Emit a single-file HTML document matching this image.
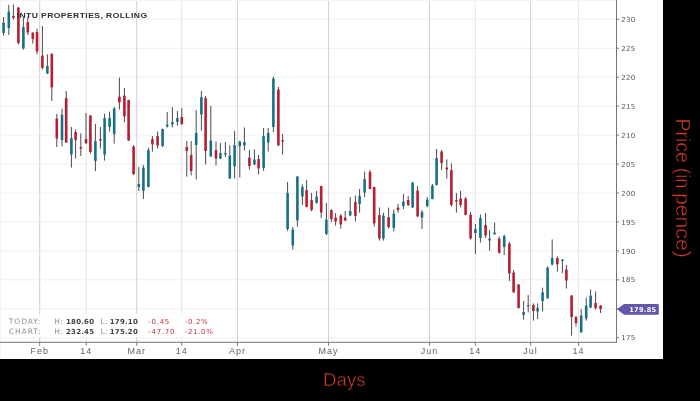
<!DOCTYPE html>
<html lang="en"><head><meta charset="utf-8"><title>INTU Properties, Rolling</title>
<style>
html,body{margin:0;padding:0;background:#000;overflow:hidden}
body{width:700px;height:401px;position:relative}
</style></head><body>
<svg width="700" height="401" viewBox="0 0 700 401" style="position:absolute;left:0;top:0">
<rect x="0" y="0" width="700" height="401" fill="#000"/>
<rect x="0" y="0" width="663" height="359" fill="#fff"/>
<g stroke="#f0f0f0" stroke-width="1">
<line x1="0" y1="19.30" x2="616.5" y2="19.30"/>
<line x1="0" y1="48.25" x2="616.5" y2="48.25"/>
<line x1="0" y1="77.20" x2="616.5" y2="77.20"/>
<line x1="0" y1="106.15" x2="616.5" y2="106.15"/>
<line x1="0" y1="135.10" x2="616.5" y2="135.10"/>
<line x1="0" y1="164.05" x2="616.5" y2="164.05"/>
<line x1="0" y1="193.00" x2="616.5" y2="193.00"/>
<line x1="0" y1="221.95" x2="616.5" y2="221.95"/>
<line x1="0" y1="250.90" x2="616.5" y2="250.90"/>
<line x1="0" y1="279.85" x2="616.5" y2="279.85"/>
<line x1="0" y1="308.80" x2="616.5" y2="308.80"/>
<line x1="0" y1="337.75" x2="616.5" y2="337.75"/>
</g>
<g stroke="#cfcfcf" stroke-width="1">
<line x1="39.7" y1="0" x2="39.7" y2="342"/>
<line x1="136.7" y1="0" x2="136.7" y2="342"/>
<line x1="237.4" y1="0" x2="237.4" y2="342"/>
<line x1="328.6" y1="0" x2="328.6" y2="342"/>
<line x1="429.6" y1="0" x2="429.6" y2="342"/>
<line x1="530.6" y1="0" x2="530.6" y2="342"/>
</g>
<g stroke="#e6e6e6" stroke-width="1">
<line x1="86.3" y1="0" x2="86.3" y2="342"/>
<line x1="181.7" y1="0" x2="181.7" y2="342"/>
<line x1="475.3" y1="0" x2="475.3" y2="342"/>
<line x1="578.6" y1="0" x2="578.6" y2="342"/>
</g>
<path d="M0.5 359 V0.5 H616" fill="none" stroke="#f4f4f4" stroke-width="1"/>
<g stroke="#4a4a4a" stroke-width="1">
<line x1="3.6" y1="17.0" x2="3.6" y2="35.6"/>
<line x1="8.8" y1="5.0" x2="8.8" y2="35.0"/>
<line x1="13.4" y1="4.4" x2="13.4" y2="19.6"/>
<line x1="18.4" y1="7.0" x2="18.4" y2="44.4"/>
<line x1="23.4" y1="18.0" x2="23.4" y2="49.6"/>
<line x1="27.8" y1="17.0" x2="27.8" y2="35.0"/>
<line x1="32.8" y1="32.6" x2="32.8" y2="43.6"/>
<line x1="37.0" y1="28.6" x2="37.0" y2="54.4"/>
<line x1="42.4" y1="26.0" x2="42.4" y2="69.4"/>
<line x1="47.4" y1="54.4" x2="47.4" y2="74.0"/>
<line x1="51.8" y1="53.0" x2="51.8" y2="101.0"/>
<line x1="56.8" y1="114.0" x2="56.8" y2="147.0"/>
<line x1="62.0" y1="108.6" x2="62.0" y2="146.6"/>
<line x1="66.2" y1="91.0" x2="66.2" y2="143.0"/>
<line x1="71.4" y1="127.0" x2="71.4" y2="167.6"/>
<line x1="75.6" y1="129.4" x2="75.6" y2="158.6"/>
<line x1="80.8" y1="133.4" x2="80.8" y2="156.0"/>
<line x1="86.0" y1="113.0" x2="86.0" y2="144.0"/>
<line x1="90.4" y1="115.0" x2="90.4" y2="153.6"/>
<line x1="95.4" y1="124.0" x2="95.4" y2="171.0"/>
<line x1="100.4" y1="127.0" x2="100.4" y2="148.6"/>
<line x1="104.6" y1="113.6" x2="104.6" y2="160.6"/>
<line x1="109.6" y1="111.6" x2="109.6" y2="131.6"/>
<line x1="114.2" y1="107.0" x2="114.2" y2="143.6"/>
<line x1="119.4" y1="77.6" x2="119.4" y2="109.6"/>
<line x1="124.4" y1="88.0" x2="124.4" y2="122.4"/>
<line x1="128.6" y1="99.6" x2="128.6" y2="141.0"/>
<line x1="133.6" y1="145.0" x2="133.6" y2="175.0"/>
<line x1="138.8" y1="167.0" x2="138.8" y2="191.0"/>
<line x1="143.4" y1="165.0" x2="143.4" y2="199.0"/>
<line x1="148.4" y1="147.6" x2="148.4" y2="187.4"/>
<line x1="152.4" y1="136.0" x2="152.4" y2="151.6"/>
<line x1="157.6" y1="131.6" x2="157.6" y2="148.6"/>
<line x1="162.6" y1="128.6" x2="162.6" y2="147.0"/>
<line x1="167.2" y1="112.0" x2="167.2" y2="127.6"/>
<line x1="172.4" y1="107.0" x2="172.4" y2="127.4"/>
<line x1="177.4" y1="111.0" x2="177.4" y2="125.6"/>
<line x1="181.8" y1="108.0" x2="181.8" y2="125.0"/>
<line x1="186.8" y1="141.0" x2="186.8" y2="176.6"/>
<line x1="191.2" y1="141.0" x2="191.2" y2="175.4"/>
<line x1="196.2" y1="110.0" x2="196.2" y2="179.4"/>
<line x1="201.4" y1="91.0" x2="201.4" y2="130.6"/>
<line x1="205.6" y1="96.0" x2="205.6" y2="164.4"/>
<line x1="210.8" y1="106.0" x2="210.8" y2="157.0"/>
<line x1="216.0" y1="141.4" x2="216.0" y2="165.6"/>
<line x1="220.4" y1="143.0" x2="220.4" y2="159.0"/>
<line x1="225.4" y1="142.0" x2="225.4" y2="157.0"/>
<line x1="229.8" y1="145.4" x2="229.8" y2="179.0"/>
<line x1="234.6" y1="131.0" x2="234.6" y2="178.6"/>
<line x1="239.8" y1="140.6" x2="239.8" y2="177.6"/>
<line x1="244.4" y1="127.4" x2="244.4" y2="150.6"/>
<line x1="249.4" y1="150.0" x2="249.4" y2="169.6"/>
<line x1="254.4" y1="149.4" x2="254.4" y2="165.0"/>
<line x1="258.6" y1="155.0" x2="258.6" y2="174.4"/>
<line x1="263.6" y1="128.0" x2="263.6" y2="171.0"/>
<line x1="268.2" y1="128.0" x2="268.2" y2="151.6"/>
<line x1="273.4" y1="76.6" x2="273.4" y2="132.0"/>
<line x1="278.4" y1="87.0" x2="278.4" y2="146.0"/>
<line x1="282.6" y1="134.0" x2="282.6" y2="154.6"/>
<line x1="287.6" y1="182.0" x2="287.6" y2="231.0"/>
<line x1="292.8" y1="227.0" x2="292.8" y2="249.6"/>
<line x1="297.4" y1="176.0" x2="297.4" y2="226.6"/>
<line x1="302.4" y1="184.4" x2="302.4" y2="205.0"/>
<line x1="306.6" y1="180.0" x2="306.6" y2="207.4"/>
<line x1="311.6" y1="193.0" x2="311.6" y2="211.4"/>
<line x1="316.6" y1="191.0" x2="316.6" y2="203.6"/>
<line x1="321.2" y1="185.6" x2="321.2" y2="218.0"/>
<line x1="326.4" y1="203.0" x2="326.4" y2="235.4"/>
<line x1="331.4" y1="209.4" x2="331.4" y2="222.0"/>
<line x1="335.6" y1="213.0" x2="335.6" y2="225.6"/>
<line x1="340.8" y1="214.0" x2="340.8" y2="228.6"/>
<line x1="345.2" y1="211.0" x2="345.2" y2="221.0"/>
<line x1="350.2" y1="197.0" x2="350.2" y2="216.0"/>
<line x1="355.4" y1="195.4" x2="355.4" y2="221.4"/>
<line x1="359.6" y1="189.0" x2="359.6" y2="212.6"/>
<line x1="364.6" y1="171.6" x2="364.6" y2="197.0"/>
<line x1="370.0" y1="170.0" x2="370.0" y2="189.4"/>
<line x1="374.2" y1="186.6" x2="374.2" y2="226.6"/>
<line x1="379.4" y1="207.4" x2="379.4" y2="240.6"/>
<line x1="383.4" y1="212.6" x2="383.4" y2="240.6"/>
<line x1="388.6" y1="207.6" x2="388.6" y2="228.6"/>
<line x1="393.8" y1="209.4" x2="393.8" y2="231.4"/>
<line x1="398.0" y1="204.0" x2="398.0" y2="212.6"/>
<line x1="403.4" y1="194.0" x2="403.4" y2="209.0"/>
<line x1="408.2" y1="196.0" x2="408.2" y2="206.0"/>
<line x1="412.6" y1="182.0" x2="412.6" y2="208.0"/>
<line x1="417.6" y1="186.0" x2="417.6" y2="217.0"/>
<line x1="422.0" y1="210.0" x2="422.0" y2="229.0"/>
<line x1="427.2" y1="197.0" x2="427.2" y2="207.4"/>
<line x1="432.4" y1="184.0" x2="432.4" y2="199.4"/>
<line x1="436.6" y1="149.0" x2="436.6" y2="185.4"/>
<line x1="441.6" y1="150.0" x2="441.6" y2="170.0"/>
<line x1="446.8" y1="159.4" x2="446.8" y2="178.6"/>
<line x1="451.4" y1="163.4" x2="451.4" y2="206.6"/>
<line x1="456.4" y1="193.0" x2="456.4" y2="212.6"/>
<line x1="460.6" y1="191.0" x2="460.6" y2="207.4"/>
<line x1="465.6" y1="197.0" x2="465.6" y2="215.4"/>
<line x1="470.6" y1="212.0" x2="470.6" y2="239.6"/>
<line x1="475.4" y1="224.0" x2="475.4" y2="254.0"/>
<line x1="480.4" y1="214.6" x2="480.4" y2="242.6"/>
<line x1="485.6" y1="213.0" x2="485.6" y2="238.0"/>
<line x1="489.6" y1="230.0" x2="489.6" y2="250.6"/>
<line x1="494.6" y1="222.6" x2="494.6" y2="234.6"/>
<line x1="499.2" y1="236.6" x2="499.2" y2="253.6"/>
<line x1="504.2" y1="234.6" x2="504.2" y2="255.0"/>
<line x1="509.4" y1="242.0" x2="509.4" y2="281.0"/>
<line x1="513.6" y1="270.0" x2="513.6" y2="292.6"/>
<line x1="518.6" y1="284.0" x2="518.6" y2="308.4"/>
<line x1="523.6" y1="301.0" x2="523.6" y2="319.6"/>
<line x1="528.2" y1="295.0" x2="528.2" y2="312.4"/>
<line x1="533.4" y1="303.4" x2="533.4" y2="320.6"/>
<line x1="537.6" y1="303.4" x2="537.6" y2="319.0"/>
<line x1="542.6" y1="287.6" x2="542.6" y2="311.6"/>
<line x1="547.6" y1="266.6" x2="547.6" y2="298.6"/>
<line x1="552.2" y1="239.4" x2="552.2" y2="265.6"/>
<line x1="557.4" y1="256.4" x2="557.4" y2="271.6"/>
<line x1="562.4" y1="259.0" x2="562.4" y2="273.0"/>
<line x1="566.4" y1="265.0" x2="566.4" y2="288.6"/>
<line x1="571.6" y1="295.0" x2="571.6" y2="335.6"/>
<line x1="576.0" y1="316.0" x2="576.0" y2="326.4"/>
<line x1="581.2" y1="309.0" x2="581.2" y2="332.6"/>
<line x1="586.2" y1="297.6" x2="586.2" y2="320.6"/>
<line x1="590.6" y1="289.4" x2="590.6" y2="308.0"/>
<line x1="595.6" y1="291.4" x2="595.6" y2="309.6"/>
<line x1="600.6" y1="305.0" x2="600.6" y2="313.0"/>
</g>
<g fill="#177186">
<rect x="2.30" y="22.6" width="2.6" height="10.40" rx="0.6"/>
<rect x="7.50" y="11.4" width="2.6" height="16.60" rx="0.6"/>
<rect x="22.10" y="27.0" width="2.6" height="21.60" rx="0.6"/>
<rect x="46.10" y="66.0" width="2.6" height="7.60" rx="0.6"/>
<rect x="60.70" y="114.4" width="2.6" height="25.60" rx="0.6"/>
<rect x="70.10" y="138.0" width="2.6" height="16.60" rx="0.6"/>
<rect x="94.10" y="141.0" width="2.6" height="20.00" rx="0.6"/>
<rect x="103.30" y="118.0" width="2.6" height="36.60" rx="0.6"/>
<rect x="108.30" y="118.0" width="2.6" height="9.00" rx="0.6"/>
<rect x="112.90" y="108.6" width="2.6" height="25.60" rx="0.6"/>
<rect x="137.50" y="184.0" width="2.6" height="3.00" rx="0.6"/>
<rect x="142.10" y="167.4" width="2.6" height="23.60" rx="0.6"/>
<rect x="147.10" y="150.0" width="2.6" height="37.00" rx="0.6"/>
<rect x="161.30" y="129.0" width="2.6" height="17.00" rx="0.6"/>
<rect x="165.90" y="124.6" width="2.6" height="2.00" rx="0.6"/>
<rect x="171.10" y="122.0" width="2.6" height="2.40" rx="0.6"/>
<rect x="176.10" y="118.0" width="2.6" height="4.00" rx="0.6"/>
<rect x="194.90" y="133.0" width="2.6" height="12.00" rx="0.6"/>
<rect x="200.10" y="97.0" width="2.6" height="17.60" rx="0.6"/>
<rect x="209.50" y="140.6" width="2.6" height="15.80" rx="0.6"/>
<rect x="219.10" y="153.0" width="2.6" height="5.60" rx="0.6"/>
<rect x="224.10" y="153.0" width="2.6" height="1.60" rx="0.6"/>
<rect x="228.50" y="155.4" width="2.6" height="23.20" rx="0.6"/>
<rect x="233.30" y="145.0" width="2.6" height="21.40" rx="0.6"/>
<rect x="238.50" y="141.4" width="2.6" height="5.00" rx="0.6"/>
<rect x="243.10" y="142.0" width="2.6" height="3.60" rx="0.6"/>
<rect x="253.10" y="159.4" width="2.6" height="5.00" rx="0.6"/>
<rect x="262.30" y="136.0" width="2.6" height="32.00" rx="0.6"/>
<rect x="266.90" y="133.0" width="2.6" height="9.60" rx="0.6"/>
<rect x="272.10" y="78.6" width="2.6" height="48.40" rx="0.6"/>
<rect x="286.30" y="193.0" width="2.6" height="36.00" rx="0.6"/>
<rect x="291.50" y="229.6" width="2.6" height="16.00" rx="0.6"/>
<rect x="296.10" y="176.4" width="2.6" height="44.00" rx="0.6"/>
<rect x="301.10" y="187.0" width="2.6" height="9.60" rx="0.6"/>
<rect x="315.30" y="196.6" width="2.6" height="6.40" rx="0.6"/>
<rect x="325.10" y="219.6" width="2.6" height="14.40" rx="0.6"/>
<rect x="348.90" y="211.0" width="2.6" height="4.40" rx="0.6"/>
<rect x="358.30" y="196.0" width="2.6" height="8.00" rx="0.6"/>
<rect x="363.30" y="179.0" width="2.6" height="13.60" rx="0.6"/>
<rect x="382.10" y="215.6" width="2.6" height="23.00" rx="0.6"/>
<rect x="392.50" y="213.4" width="2.6" height="14.60" rx="0.6"/>
<rect x="402.10" y="201.4" width="2.6" height="4.60" rx="0.6"/>
<rect x="411.30" y="182.4" width="2.6" height="25.00" rx="0.6"/>
<rect x="420.70" y="212.0" width="2.6" height="5.60" rx="0.6"/>
<rect x="425.90" y="199.4" width="2.6" height="6.60" rx="0.6"/>
<rect x="431.10" y="185.6" width="2.6" height="13.40" rx="0.6"/>
<rect x="435.30" y="158.0" width="2.6" height="27.00" rx="0.6"/>
<rect x="474.10" y="229.0" width="2.6" height="4.00" rx="0.6"/>
<rect x="479.10" y="218.0" width="2.6" height="20.00" rx="0.6"/>
<rect x="488.30" y="238.6" width="2.6" height="2.00" rx="0.6"/>
<rect x="493.30" y="232.6" width="2.6" height="1.80" rx="0.6"/>
<rect x="502.90" y="236.0" width="2.6" height="11.00" rx="0.6"/>
<rect x="522.30" y="312.0" width="2.6" height="3.00" rx="0.6"/>
<rect x="526.90" y="305.0" width="2.6" height="1.40" rx="0.6"/>
<rect x="536.30" y="308.0" width="2.6" height="3.60" rx="0.6"/>
<rect x="541.30" y="292.2" width="2.6" height="9.00" rx="0.6"/>
<rect x="546.30" y="267.6" width="2.6" height="30.80" rx="0.6"/>
<rect x="550.90" y="258.0" width="2.6" height="6.40" rx="0.6"/>
<rect x="561.10" y="259.4" width="2.6" height="1.60" rx="0.6"/>
<rect x="579.90" y="315.6" width="2.6" height="16.80" rx="0.6"/>
<rect x="584.90" y="305.6" width="2.6" height="12.80" rx="0.6"/>
<rect x="589.30" y="295.4" width="2.6" height="12.20" rx="0.6"/>
</g>
<g fill="#b91d30">
<rect x="12.10" y="16.0" width="2.6" height="2.00" rx="0.6"/>
<rect x="17.10" y="7.6" width="2.6" height="35.40" rx="0.6"/>
<rect x="26.50" y="22.0" width="2.6" height="10.60" rx="0.6"/>
<rect x="31.50" y="32.6" width="2.6" height="6.40" rx="0.6"/>
<rect x="35.70" y="32.0" width="2.6" height="19.40" rx="0.6"/>
<rect x="41.10" y="55.4" width="2.6" height="12.60" rx="0.6"/>
<rect x="50.50" y="54.0" width="2.6" height="33.40" rx="0.6"/>
<rect x="55.50" y="118.6" width="2.6" height="20.00" rx="0.6"/>
<rect x="64.90" y="98.0" width="2.6" height="44.60" rx="0.6"/>
<rect x="74.30" y="132.0" width="2.6" height="8.00" rx="0.6"/>
<rect x="79.50" y="147.0" width="2.6" height="1.60" rx="0.6"/>
<rect x="84.70" y="139.0" width="2.6" height="4.00" rx="0.6"/>
<rect x="89.10" y="115.6" width="2.6" height="36.40" rx="0.6"/>
<rect x="99.10" y="139.0" width="2.6" height="1.60" rx="0.6"/>
<rect x="118.10" y="96.6" width="2.6" height="5.80" rx="0.6"/>
<rect x="123.10" y="95.4" width="2.6" height="21.00" rx="0.6"/>
<rect x="127.30" y="100.0" width="2.6" height="40.60" rx="0.6"/>
<rect x="132.30" y="146.6" width="2.6" height="27.40" rx="0.6"/>
<rect x="151.10" y="139.0" width="2.6" height="5.40" rx="0.6"/>
<rect x="156.30" y="136.0" width="2.6" height="9.60" rx="0.6"/>
<rect x="180.50" y="117.0" width="2.6" height="7.00" rx="0.6"/>
<rect x="185.50" y="147.0" width="2.6" height="4.00" rx="0.6"/>
<rect x="189.90" y="155.0" width="2.6" height="16.00" rx="0.6"/>
<rect x="204.30" y="98.0" width="2.6" height="53.00" rx="0.6"/>
<rect x="214.70" y="150.0" width="2.6" height="8.60" rx="0.6"/>
<rect x="248.10" y="157.4" width="2.6" height="8.60" rx="0.6"/>
<rect x="257.30" y="159.0" width="2.6" height="9.40" rx="0.6"/>
<rect x="277.10" y="89.4" width="2.6" height="56.00" rx="0.6"/>
<rect x="281.30" y="140.0" width="2.6" height="1.60" rx="0.6"/>
<rect x="305.30" y="190.0" width="2.6" height="17.00" rx="0.6"/>
<rect x="310.30" y="200.0" width="2.6" height="10.00" rx="0.6"/>
<rect x="319.90" y="186.0" width="2.6" height="26.60" rx="0.6"/>
<rect x="330.10" y="210.0" width="2.6" height="9.00" rx="0.6"/>
<rect x="334.30" y="217.4" width="2.6" height="4.00" rx="0.6"/>
<rect x="339.50" y="215.6" width="2.6" height="9.00" rx="0.6"/>
<rect x="343.90" y="217.4" width="2.6" height="3.20" rx="0.6"/>
<rect x="354.10" y="202.0" width="2.6" height="14.00" rx="0.6"/>
<rect x="368.70" y="172.0" width="2.6" height="17.00" rx="0.6"/>
<rect x="372.90" y="187.0" width="2.6" height="36.40" rx="0.6"/>
<rect x="378.10" y="215.0" width="2.6" height="23.60" rx="0.6"/>
<rect x="387.30" y="217.0" width="2.6" height="10.00" rx="0.6"/>
<rect x="396.70" y="207.6" width="2.6" height="2.40" rx="0.6"/>
<rect x="406.90" y="200.0" width="2.6" height="5.00" rx="0.6"/>
<rect x="416.30" y="190.4" width="2.6" height="26.00" rx="0.6"/>
<rect x="440.30" y="151.4" width="2.6" height="11.60" rx="0.6"/>
<rect x="445.50" y="167.6" width="2.6" height="2.00" rx="0.6"/>
<rect x="450.10" y="170.0" width="2.6" height="35.00" rx="0.6"/>
<rect x="455.10" y="200.0" width="2.6" height="1.60" rx="0.6"/>
<rect x="459.30" y="198.6" width="2.6" height="6.40" rx="0.6"/>
<rect x="464.30" y="198.4" width="2.6" height="16.60" rx="0.6"/>
<rect x="469.30" y="214.6" width="2.6" height="24.00" rx="0.6"/>
<rect x="484.30" y="225.0" width="2.6" height="10.60" rx="0.6"/>
<rect x="497.90" y="238.4" width="2.6" height="14.60" rx="0.6"/>
<rect x="508.10" y="243.4" width="2.6" height="30.20" rx="0.6"/>
<rect x="512.30" y="272.6" width="2.6" height="19.80" rx="0.6"/>
<rect x="517.30" y="284.6" width="2.6" height="23.40" rx="0.6"/>
<rect x="532.10" y="305.0" width="2.6" height="6.00" rx="0.6"/>
<rect x="556.10" y="258.0" width="2.6" height="6.40" rx="0.6"/>
<rect x="565.10" y="269.4" width="2.6" height="11.20" rx="0.6"/>
<rect x="570.30" y="295.6" width="2.6" height="21.40" rx="0.6"/>
<rect x="574.70" y="317.0" width="2.6" height="6.00" rx="0.6"/>
<rect x="594.30" y="303.0" width="2.6" height="5.00" rx="0.6"/>
<rect x="599.30" y="305.6" width="2.6" height="3.40" rx="0.6"/>
</g>
<rect x="4" y="314" width="215" height="23" fill="#fff" fill-opacity="0.88"/>
<g stroke="#757575" stroke-width="1">
<line x1="616.5" y1="0" x2="616.5" y2="342.5"/>
<line x1="0" y1="342.3" x2="617" y2="342.3"/>
<line x1="616.5" y1="19.30" x2="619" y2="19.30"/>
<line x1="616.5" y1="48.25" x2="619" y2="48.25"/>
<line x1="616.5" y1="77.20" x2="619" y2="77.20"/>
<line x1="616.5" y1="106.15" x2="619" y2="106.15"/>
<line x1="616.5" y1="135.10" x2="619" y2="135.10"/>
<line x1="616.5" y1="164.05" x2="619" y2="164.05"/>
<line x1="616.5" y1="193.00" x2="619" y2="193.00"/>
<line x1="616.5" y1="221.95" x2="619" y2="221.95"/>
<line x1="616.5" y1="250.90" x2="619" y2="250.90"/>
<line x1="616.5" y1="279.85" x2="619" y2="279.85"/>
<line x1="616.5" y1="308.80" x2="619" y2="308.80"/>
<line x1="616.5" y1="337.75" x2="619" y2="337.75"/>
<line x1="39.7" y1="342.3" x2="39.7" y2="345.7"/>
<line x1="136.7" y1="342.3" x2="136.7" y2="345.7"/>
<line x1="237.4" y1="342.3" x2="237.4" y2="345.7"/>
<line x1="328.6" y1="342.3" x2="328.6" y2="345.7"/>
<line x1="429.6" y1="342.3" x2="429.6" y2="345.7"/>
<line x1="530.6" y1="342.3" x2="530.6" y2="345.7"/>
<line x1="86.3" y1="342.3" x2="86.3" y2="345.7"/>
<line x1="181.7" y1="342.3" x2="181.7" y2="345.7"/>
<line x1="475.3" y1="342.3" x2="475.3" y2="345.7"/>
<line x1="578.6" y1="342.3" x2="578.6" y2="345.7"/>
</g>
<g font-family="'DejaVu Sans', 'Liberation Sans', sans-serif" font-size="7" fill="#555" letter-spacing="0.3">
<text x="621.2" y="21.90">230</text>
<text x="621.2" y="50.85">225</text>
<text x="621.2" y="79.80">220</text>
<text x="621.2" y="108.75">215</text>
<text x="621.2" y="137.70">210</text>
<text x="621.2" y="166.65">205</text>
<text x="621.2" y="195.60">200</text>
<text x="621.2" y="224.55">195</text>
<text x="621.2" y="253.50">190</text>
<text x="621.2" y="282.45">185</text>
<text x="621.2" y="311.40">180</text>
<text x="621.2" y="340.35">175</text>
</g>
<g font-family="'Liberation Sans', sans-serif" font-size="9" fill="#626262" text-anchor="middle" letter-spacing="1">
<text x="39.7" y="353.6">Feb</text>
<text x="136.7" y="353.6">Mar</text>
<text x="237.4" y="353.6">Apr</text>
<text x="328.6" y="353.6">May</text>
<text x="429.6" y="353.6">Jun</text>
<text x="530.6" y="353.6">Jul</text>
<text x="86.3" y="353.6">14</text>
<text x="181.7" y="353.6">14</text>
<text x="475.3" y="353.6">14</text>
<text x="578.6" y="353.6">14</text>
</g>
<path d="M617 309.3 L624 303.9 H657.5 Q658.8 303.9 658.8 305.2 V313.4 Q658.8 314.7 657.5 314.7 H624 Z" fill="#6456a8"/>
<text x="629.2" y="311.6" font-family="'DejaVu Sans', 'Liberation Sans', sans-serif" font-weight="bold" font-size="6.6" letter-spacing="0.3" fill="#fff">179.85</text>
<text transform="translate(16.6 17.8) scale(1.122 1)" font-family="'Liberation Sans', sans-serif" font-weight="bold" font-size="7.6" fill="#2e2e2e" letter-spacing="0.4">INTU PROPERTIES, ROLLING</text>
<text x="8.8" y="324.1" font-family="'DejaVu Sans', 'Liberation Sans', sans-serif" font-size="7.5" fill="#8e8e8e" letter-spacing="0.95">TODAY:</text>
<text x="54.2" y="324.1" font-family="'DejaVu Sans', 'Liberation Sans', sans-serif" font-size="7.5" fill="#8e8e8e" letter-spacing="0.5">H:</text>
<text x="66" y="324.1" font-family="'DejaVu Sans', 'Liberation Sans', sans-serif" font-size="7" fill="#444" font-weight="bold" letter-spacing="0.2">180.60</text>
<text x="100.4" y="324.1" font-family="'DejaVu Sans', 'Liberation Sans', sans-serif" font-size="7.5" fill="#8e8e8e" letter-spacing="0.5">L:</text>
<text x="109.8" y="324.1" font-family="'DejaVu Sans', 'Liberation Sans', sans-serif" font-size="7" fill="#444" font-weight="bold" letter-spacing="0.2">179.10</text>
<text x="148.2" y="324.1" font-family="'DejaVu Sans', 'Liberation Sans', sans-serif" font-size="7" fill="#c4303f" letter-spacing="0.75">-0.45</text>
<text x="184.8" y="324.1" font-family="'DejaVu Sans', 'Liberation Sans', sans-serif" font-size="7" fill="#c4303f" letter-spacing="0.65">-0.2%</text>
<text x="8.8" y="333.7" font-family="'DejaVu Sans', 'Liberation Sans', sans-serif" font-size="7.5" fill="#8e8e8e" letter-spacing="0.95">CHART:</text>
<text x="54.2" y="333.7" font-family="'DejaVu Sans', 'Liberation Sans', sans-serif" font-size="7.5" fill="#8e8e8e" letter-spacing="0.5">H:</text>
<text x="66" y="333.7" font-family="'DejaVu Sans', 'Liberation Sans', sans-serif" font-size="7" fill="#444" font-weight="bold" letter-spacing="0.2">232.45</text>
<text x="100.4" y="333.7" font-family="'DejaVu Sans', 'Liberation Sans', sans-serif" font-size="7.5" fill="#8e8e8e" letter-spacing="0.5">L:</text>
<text x="109.8" y="333.7" font-family="'DejaVu Sans', 'Liberation Sans', sans-serif" font-size="7" fill="#444" font-weight="bold" letter-spacing="0.2">175.20</text>
<text x="148.2" y="333.7" font-family="'DejaVu Sans', 'Liberation Sans', sans-serif" font-size="7" fill="#c4303f" letter-spacing="0.75">-47.70</text>
<text x="184.8" y="333.7" font-family="'DejaVu Sans', 'Liberation Sans', sans-serif" font-size="7" fill="#c4303f" letter-spacing="0.65">-21.0%</text>
<text transform="translate(344.3 386) scale(1.04 1)" text-anchor="middle" font-family="'Liberation Sans', sans-serif" font-size="18" fill="#d2372c" stroke="#000" stroke-width="0.45">Days</text>
<text transform="translate(675.5 118.5) rotate(90)" font-family="'Liberation Sans', sans-serif" font-size="19.5" fill="#d2372c" stroke="#000" stroke-width="0.45"><tspan>Price</tspan></text>
<text transform="translate(675.5 168.1) rotate(90) scale(0.93 1)" font-family="'Liberation Sans', sans-serif" font-size="19.5" fill="#d2372c" stroke="#000" stroke-width="0.45">(in</text>
<text transform="translate(675.5 192.9) rotate(90) scale(1.09 1)" font-family="'Liberation Sans', sans-serif" font-size="19.5" fill="#d2372c" stroke="#000" stroke-width="0.45">pence)</text>
</svg>
</body></html>
